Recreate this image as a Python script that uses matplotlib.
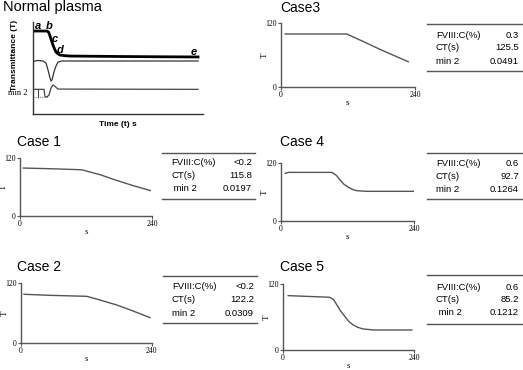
import matplotlib
matplotlib.use("Agg")
import matplotlib.pyplot as plt
from matplotlib.lines import Line2D

W, H = 523, 370

# Normal plasma reference traces (time s, arbitrary units)
np_t_time = [0, 19.8, 22, 24, 26, 28.2, 30.5, 32.5, 35, 38, 45, 52, 80, 123, 180, 233]
np_t_val = [90.2, 90.2, 89, 84.8, 80, 75, 70.5, 67.4, 65.5, 64.1, 63.4, 63, 62.8, 62.5, 62.2, 62]
np_d1_time = [0, 7.1, 14.1, 18.4, 21.2, 24, 25.4, 26.8, 29.6, 32.5, 35.3, 40.9, 233]
np_d1_val = [57.1, 58.2, 57.6, 55.4, 47.8, 39.1, 35.9, 37, 45.7, 52.2, 56.5, 57.6, 57.6]
np_d2_time = [0, 15.5, 16.9, 19.8, 22.6, 25.4, 28.2, 31.1, 35.3, 233]
np_d2_val = [26.8, 26.8, 19, 18.5, 20.7, 28.3, 31.5, 29.9, 27.1, 26.8]
point_labels = ["a", "b", "c", "d", "e"]
point_x = [6.6, 22.6, 31, 38, 227]
point_y = [95.7, 95.7, 81.5, 69.9, 67.7]

# Case curves (time s, transmittance T)
case1_t = [6, 55, 112, 146, 176, 207, 237]
case1_v = [99.2, 97.8, 95.7, 85.3, 73.5, 62.4, 52.7]
case2_t = [6, 54, 121, 145, 176, 206, 237]
case2_v = [97.8, 95.7, 93.7, 86.3, 76.2, 64, 50.6]
case3_t = [8, 118, 148, 177, 207, 228]
case3_v = [100, 100, 85.6, 71.3, 57.5, 48]
case4_t = [8, 14, 92, 100, 107, 114, 122, 130, 137, 155, 239]
case4_v = [99, 101, 101, 95, 85, 76, 69.8, 65, 62.8, 61.4, 61.4]
case5_t = [10, 86, 93, 99, 106, 114, 121, 129, 137, 147, 166, 236]
case5_v = [99.3, 96.3, 92, 82.3, 71, 60.9, 52, 45.7, 41.5, 38.4, 36.6, 36.6]

# Table values
rows_a = ["FVIII:C(%)", "CT(s)", "min 2"]
rows_b = ["FVIII:C(%)", "CT(s)", " min 2"]
case1_tab = ["<0.2", "115.8", "0.0197"]
case2_tab = ["<0.2", "122.2", "0.0309"]
case3_tab = ["0.3", "125.5", "0.0491"]
case4_tab = ["0.6", "92.7", "0.1264"]
case5_tab = ["0.6", "85.2", "0.1212"]

sans = "Liberation Sans"
serif = "Liberation Serif"
gray = "#555555"


def rect(x0, y0, x1, y1):
    return [x0 / W, 1 - y1 / H, (x1 - x0) / W, (y1 - y0) / H]


fig = plt.figure(figsize=(W / 100, H / 100), dpi=100)

# ---- Normal plasma ----
ax = fig.add_axes(rect(33, 22, 203, 114))
ax.plot(np_t_time, np_t_val, color="black", lw=2)
ax.plot(np_d1_time, np_d1_val, color="#333333", lw=0.9)
ax.plot(np_d2_time, np_d2_val, color="#444444", lw=0.9)
ax.plot([7, 7], [np_d2_val[0], np_d2_val[3]], color="#444444", lw=0.8)
ax.plot([0, 21], [np_d2_val[3], np_d2_val[3]], color="#444444", lw=0.6, ls=":")
for lab, x, y in zip(point_labels, point_x, point_y):
    ax.text(x, y, lab, fontsize=8, fontweight="bold", style="italic",
            family=sans, ha="center", va="center")
ax.set_xlim(0, 240)
ax.set_ylim(0, 100)
ax.set_xticks([])
ax.set_yticks([])
for s in ["top", "right"]:
    ax.spines[s].set_visible(False)
for s in ["left", "bottom"]:
    ax.spines[s].set_color("#333333")
    ax.spines[s].set_linewidth(1)
ax.set_xlabel("Time (t) s", fontsize=6, fontweight="bold", family=sans, labelpad=5)
ax.set_ylabel("Transmittance (T)", fontsize=6, fontweight="bold", family=sans, loc="top")
ax.yaxis.set_label_coords(-15 / 170, 1.02)
fig.text(8 / W, 1 - 93.3 / H, "min 2", fontsize=6, family=serif, va="center")
fig.text(2.7 / W, 1 - 7 / H, "Normal plasma", fontsize=10.5, family=sans, va="center")

# ---- Case panels ----
cases = [
    ("Case 1", case1_t, case1_v, case1_tab, rows_b, (20, 158, 152, 216), (17, 142), (162, 255, 152.7, 199, [162.7, 175.5, 188.3])),
    ("Case 2", case2_t, case2_v, case2_tab, rows_a, (20.7, 283.3, 151.7, 342.7), (17, 267), (163, 257, 276, 322.7, [286.7, 300, 313.3])),
    ("Case3", case3_t, case3_v, case3_tab, rows_a, (280.7, 23.3, 415, 87.3), (280, 8.5), (427, 522, 24, 70.7, [35, 48, 61])),
    ("Case 4", case4_t, case4_v, case4_tab, rows_a, (280.7, 163.3, 414, 220.7), (280, 142), (427, 522, 152.7, 199.3, [163.3, 176.7, 189.3])),
    ("Case 5", case5_t, case5_v, case5_tab, rows_b, (282.7, 284.3, 414, 350), (280, 267), (427, 522, 275, 324, [287.7, 300, 312.7])),
]

for title, t, v, tab, names, box, tpos, tb in cases:
    ax = fig.add_axes(rect(*box))
    ax.plot(t, v, color=gray, lw=1)
    ax.set_xlim(0, 240)
    ax.set_ylim(0, 120)
    ax.set_xticks([0, 240])
    ax.set_yticks([0, 120])
    ax.tick_params(length=2, width=0.8, color=gray, pad=1, labelsize=5.5)
    for lbl in ax.get_xticklabels() + ax.get_yticklabels():
        lbl.set_family(serif)
    for s in ["top", "right"]:
        ax.spines[s].set_visible(False)
    for s in ["left", "bottom"]:
        ax.spines[s].set_color(gray)
        ax.spines[s].set_linewidth(1)
    axw = box[2] - box[0]
    ax.set_xlabel("s", fontsize=6.5, family=serif, labelpad=0)
    ax.set_ylabel("T", fontsize=6.5, family=serif)
    ax.yaxis.set_label_coords(-12 / axw, 0.5)
    fig.text(tpos[0] / W, 1 - tpos[1] / H, title, fontsize=10, family=sans, va="center")

    x0, x1, ytop, ybot, rows = tb
    fig.add_artist(Line2D([x0 / W, x1 / W], [1 - ytop / H, 1 - ytop / H], color=gray, lw=1))
    fig.add_artist(Line2D([x0 / W, x1 / W], [1 - ybot / H, 1 - ybot / H], color=gray, lw=1))
    for name, val, ry in zip(names, tab, rows):
        fig.text((x0 + 9) / W, 1 - ry / H, name, fontsize=6.8, family=sans, va="center")
        fig.text((x1 - 3) / W, 1 - ry / H, val, fontsize=6.8, family=sans, va="center", ha="right")

fig.savefig("out.png", dpi=100)
